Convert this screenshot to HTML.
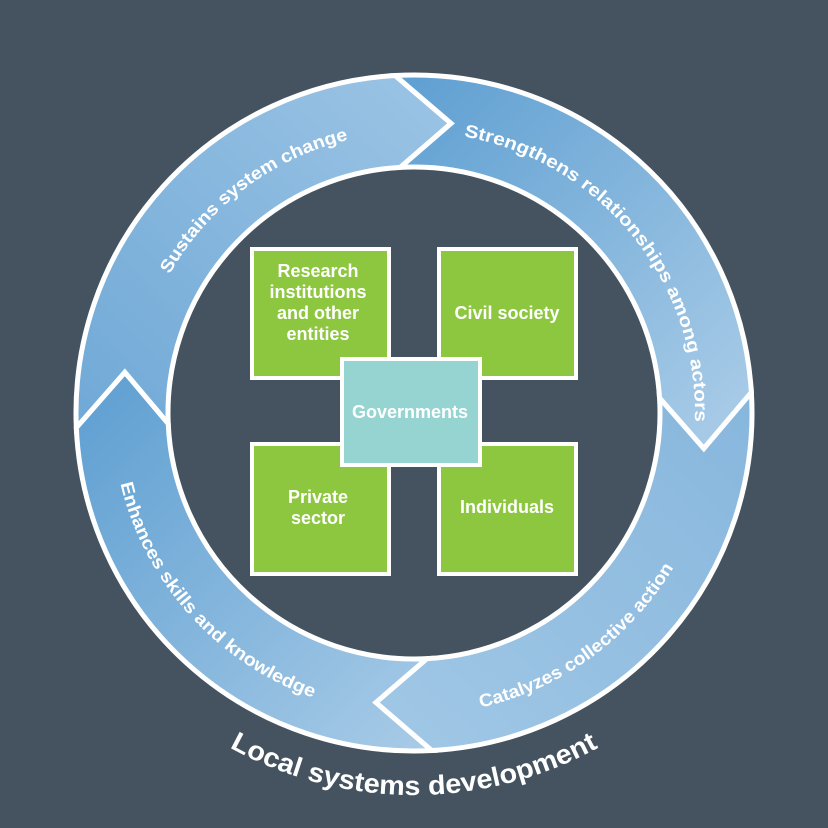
<!DOCTYPE html>
<html><head><meta charset="utf-8">
<style>
html,body{margin:0;padding:0;background:#44535f;}
svg{display:block;}
text{font-family:"Liberation Sans",Arial,sans-serif;font-weight:bold;fill:#fff;}
</style></head>
<body>
<svg id="s" width="828" height="828" viewBox="0 0 828 828" xmlns="http://www.w3.org/2000/svg">
<rect width="828" height="828" fill="#44535f"/>
<defs id="d"></defs>
<g id="ring"></g>
<g id="labels"></g>
<g stroke="#fff" stroke-width="4">
<rect x="252" y="249" width="137" height="129" fill="#8dc63f"/>
<rect x="439" y="249" width="137" height="129" fill="#8dc63f"/>
<rect x="252" y="444" width="137" height="130" fill="#8dc63f"/>
<rect x="439" y="444" width="137" height="130" fill="#8dc63f"/>
<rect x="342" y="359" width="138" height="106" fill="#96d4d1"/>
</g>
<g font-size="18" text-anchor="middle">
<text x="318" y="277">Research</text>
<text x="318" y="298">institutions</text>
<text x="318" y="319">and other</text>
<text x="318" y="340">entities</text>
<text x="507" y="319">Civil society</text>
<text x="410" y="418">Governments</text>
<text x="318" y="503">Private</text>
<text x="318" y="524">sector</text>
<text x="507" y="513">Individuals</text>
</g>
</svg>
<script>
var cx=414,cy=413,RO=338,RI=246,RM=292,D=10.5;
function P(a,r){a=a*Math.PI/180;return [cx+r*Math.sin(a),cy-r*Math.cos(a)];}
function f(p){return p[0].toFixed(2)+","+p[1].toFixed(2);}
var ns="http://www.w3.org/2000/svg";
var bounds=[267.5,356.8,446.5,537,627.5];
var grads=[
 [100,420,420,80,"#72aad7","#9ac3e4"],
 [410,80,740,420,"#60a0d2","#a8cbe7"],
 [740,400,420,740,"#88b7dd","#9fc6e5"],
 [80,400,430,750,"#60a0d2","#a8cbe7"]
];
var ring=document.getElementById("ring"),defs=document.getElementById("d");
for(var i=0;i<4;i++){
 var s=bounds[i],e=bounds[i+1];
 var d="M"+f(P(s,RO))+" A"+RO+","+RO+" 0 0 1 "+f(P(e,RO))+" L"+f(P(e+D,RM))+" L"+f(P(e,RI))+
   " A"+RI+","+RI+" 0 0 0 "+f(P(s,RI))+" L"+f(P(s+D,RM))+" Z";
 var gg=grads[i];
 var g=document.createElementNS(ns,"linearGradient");
 g.setAttribute("id","g"+i);g.setAttribute("gradientUnits","userSpaceOnUse");
 g.setAttribute("x1",gg[0]);g.setAttribute("y1",gg[1]);g.setAttribute("x2",gg[2]);g.setAttribute("y2",gg[3]);
 g.innerHTML='<stop offset="0" stop-color="'+gg[4]+'"/><stop offset="1" stop-color="'+gg[5]+'"/>';
 defs.appendChild(g);
 var p=document.createElementNS(ns,"path");
 p.setAttribute("d",d);p.setAttribute("fill","url(#g"+i+")");p.setAttribute("stroke","#fff");
 p.setAttribute("stroke-width","5");p.setAttribute("stroke-linejoin","miter");
 ring.appendChild(p);
}
var labels=document.getElementById("labels");
function lab(id,txt,a1,a2,r,cw,size,len){
 var p=document.createElementNS(ns,"path");
 var d=cw?"M"+f(P(a1,r))+" A"+r+","+r+" 0 0 1 "+f(P(a2,r)):"M"+f(P(a2,r))+" A"+r+","+r+" 0 0 0 "+f(P(a1,r));
 p.setAttribute("id",id);p.setAttribute("d",d);p.setAttribute("fill","none");defs.appendChild(p);
 var t=document.createElementNS(ns,"text");t.setAttribute("font-size",size);
 t.innerHTML='<textPath href="#'+id+'" startOffset="50%" text-anchor="middle"'+(len?' textLength="'+len+'" lengthAdjust="spacingAndGlyphs"':'')+'>'+txt+'</textPath>';
 labels.appendChild(t);
}
lab("t1","Sustains system change",290,356,281,true,18,230);
lab("t2","Strengthens relationships among actors",0,102,281,true,18,400);
lab("t3","Catalyzes collective action",110,178,302,false,18,245);
lab("t4","Enhances skills and knowledge",194,262,302,false,18,300);
lab("t5","Local systems development",130,230,382,false,27,385);
</script>
</body></html>
